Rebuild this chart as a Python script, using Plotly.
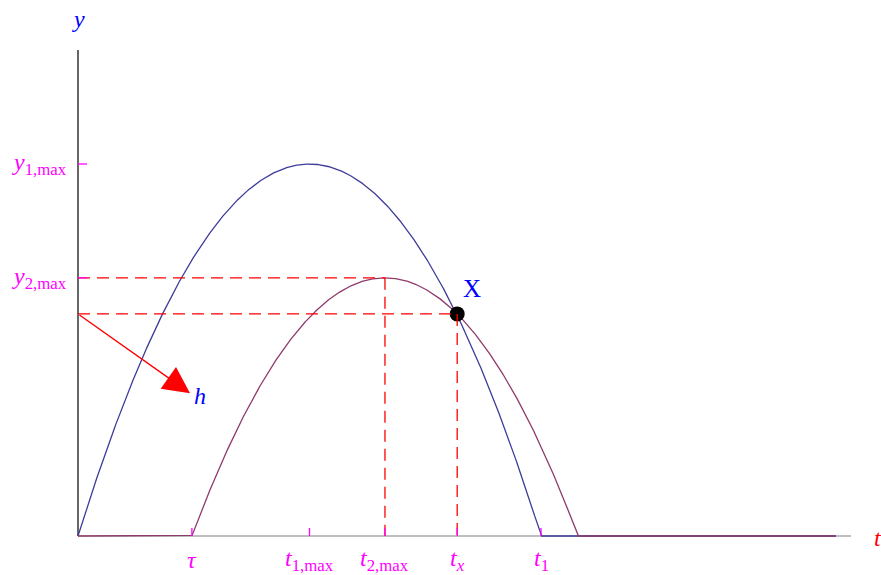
import numpy as np
import plotly.graph_objects as go

# Trajectory parameters (time in arbitrary units, height in arbitrary units)
peak_times = [5.0, 6.63]        # t1,max ; t2,max
peak_heights = [10.0, 6.94]     # y1,max ; y2,max
start_times = [0.0, 2.46]       # 0 ; tau
t_cross = 8.19                  # t_x
y_cross = 5.97                  # height at the crossing point
t_end = 16.37                   # end of plotted interval

x_tick_vals = [2.46, 5.0, 6.63, 8.19, 10.0]
x_tick_text = ["<i>τ</i>", "<i>t</i><sub>1,max</sub>", "<i>t</i><sub>2,max</sub>",
               "<i>t</i><sub><i>x</i></sub>", "<i>t</i><sub>1</sub>"]
y_tick_vals = [10.0, 6.94]
y_tick_text = ["<i>y</i><sub>1,max</sub>", "<i>y</i><sub>2,max</sub>"]

SERIF = "Liberation Serif"
MAGENTA = "#ff00ff"
RED = "#ff0000"
BLUE = "#0000ff"
C1 = "#3d3d99"
C2 = "#8f3a6c"

# pixel scale of the frame
px_t = 46.3
px_y = 37.2
x0_px, y0_px = 78, 536
W, H = 881, 575
x_range = [-x0_px / px_t, (W - x0_px) / px_t]
y_range = [-(H - y0_px) / px_y, y0_px / px_y]


def height(t, t0, tp, yp):
    half = tp - t0
    return np.maximum(0.0, yp * (1 - ((t - tp) / half) ** 2))


t = np.linspace(0, t_end, 2000)
fig = go.Figure()

shapes = []
# axes
shapes.append(dict(type="line", x0=0, x1=(851 - x0_px) / px_t, y0=0, y1=0,
                   line=dict(color="#808080", width=1.2), layer="below"))
shapes.append(dict(type="line", x0=0, x1=0, y0=0, y1=(y0_px - 50) / px_y,
                   line=dict(color="black", width=1.2), layer="below"))

# dashed guides
dash = "12px,7px"
for tp, yp in [(peak_times[1], peak_heights[1]), (t_cross, y_cross)]:
    shapes.append(dict(type="line", x0=0, x1=tp, y0=yp, y1=yp,
                       line=dict(color=RED, width=1.3, dash=dash)))
    shapes.append(dict(type="line", x0=tp, x1=tp, y0=yp, y1=0,
                       line=dict(color=RED, width=1.3, dash=dash)))

# ticks
for xv in x_tick_vals:
    shapes.append(dict(type="line", x0=xv, x1=xv, y0=0, y1=8 / px_y,
                       line=dict(color=MAGENTA, width=1.3)))
for yv in y_tick_vals:
    shapes.append(dict(type="line", x0=0, x1=9 / px_t, y0=yv, y1=yv,
                       line=dict(color=MAGENTA, width=1.3)))

# curves
fig.add_trace(go.Scatter(x=t, y=height(t, start_times[0], peak_times[0], peak_heights[0]),
                         mode="lines", line=dict(color=C1, width=1.3), hoverinfo="skip"))
fig.add_trace(go.Scatter(x=t, y=height(t, start_times[1], peak_times[1], peak_heights[1]),
                         mode="lines", line=dict(color=C2, width=1.3), hoverinfo="skip"))

# crossing point
fig.add_trace(go.Scatter(x=[t_cross], y=[y_cross], mode="markers",
                         marker=dict(color="black", size=15), hoverinfo="skip"))

annotations = []
for xv, txt in zip(x_tick_vals, x_tick_text):
    annotations.append(dict(x=xv, y=-24 / px_y, text=txt, showarrow=False,
                            font=dict(family=SERIF, size=24, color=MAGENTA),
                            xanchor="center", yanchor="middle"))
for yv, txt in zip(y_tick_vals, y_tick_text):
    annotations.append(dict(x=-9 / px_t, y=yv, text=txt, showarrow=False,
                            font=dict(family=SERIF, size=24, color=MAGENTA),
                            xanchor="right", yanchor="middle"))

annotations.append(dict(x=0, y=(y0_px - 19) / px_y, text="<i>y</i>", showarrow=False,
                        font=dict(family=SERIF, size=24, color=BLUE)))
annotations.append(dict(x=(878 - x0_px) / px_t, y=(y0_px - 538) / px_y, text="<i>t</i>",
                        showarrow=False, font=dict(family=SERIF, size=24, color=RED)))
annotations.append(dict(x=t_cross + 0.33, y=y_cross + 0.67, text="X", showarrow=False,
                        font=dict(family=SERIF, size=25, color=BLUE)))

# arrow labelled h
h_tip = (2.42, 3.84)
annotations.append(dict(x=h_tip[0], y=h_tip[1], ax=0, ay=y_cross, axref="x", ayref="y",
                        xref="x", yref="y", text="", showarrow=True, arrowhead=2,
                        arrowsize=3.8, arrowwidth=1.4, arrowcolor=RED, standoff=0))
annotations.append(dict(x=h_tip[0] + 0.22, y=h_tip[1] - 0.08, text="<i>h</i>", showarrow=False,
                        font=dict(family=SERIF, size=24, color=BLUE)))

fig.update_layout(
    width=W, height=H, margin=dict(l=0, r=0, t=0, b=0),
    paper_bgcolor="white", plot_bgcolor="white", showlegend=False,
    xaxis=dict(range=x_range, visible=False, fixedrange=True),
    yaxis=dict(range=y_range, visible=False, fixedrange=True),
    shapes=shapes, annotations=annotations,
)

fig.write_html("out.html")
